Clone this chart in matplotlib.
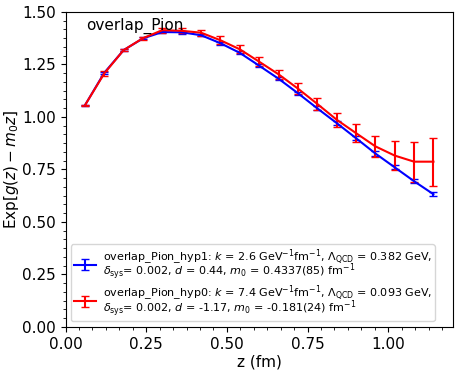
import numpy as np
import matplotlib
matplotlib.use('Agg')
import matplotlib.pyplot as plt
from matplotlib.ticker import AutoMinorLocator

z = [0.06, 0.12, 0.18, 0.24, 0.30, 0.36, 0.42, 0.48, 0.54, 0.60,
     0.66, 0.72, 0.78, 0.84, 0.90, 0.96, 1.02, 1.08, 1.14]

hyp1 = [1.055, 1.210, 1.318, 1.374, 1.404, 1.403, 1.389, 1.351, 1.305, 1.244,
        1.182, 1.113, 1.041, 0.971, 0.899, 0.826, 0.760, 0.694, 0.632]
hyp1_err = [0.003, 0.006, 0.005, 0.005, 0.006, 0.006, 0.006, 0.007, 0.007, 0.008,
            0.008, 0.008, 0.009, 0.009, 0.009, 0.010, 0.010, 0.010, 0.010]

hyp0 = [1.055, 1.207, 1.318, 1.375, 1.413, 1.410, 1.401, 1.365, 1.322, 1.263,
        1.203, 1.135, 1.062, 0.987, 0.923, 0.860, 0.816, 0.787, 0.787]
hyp0_err = [0.004, 0.010, 0.006, 0.007, 0.012, 0.012, 0.014, 0.018, 0.020, 0.022,
            0.022, 0.026, 0.027, 0.033, 0.041, 0.050, 0.068, 0.096, 0.115]

lab1 = (r'overlap_Pion_hyp1: $k$ = 2.6 GeV$^{-1}$fm$^{-1}$, $\Lambda_{\rm QCD}$ = 0.382 GeV,' + '\n'
        + r'$\delta_{\rm sys}$= 0.002, $d$ = 0.44, $m_0$ = 0.4337(85) fm$^{-1}$')
lab0 = (r'overlap_Pion_hyp0: $k$ = 7.4 GeV$^{-1}$fm$^{-1}$, $\Lambda_{\rm QCD}$ = 0.093 GeV,' + '\n'
        + r'$\delta_{\rm sys}$= 0.002, $d$ = -1.17, $m_0$ = -0.181(24) fm$^{-1}$')

fig = plt.figure(figsize=(4.63, 3.72), dpi=100)
ax = fig.add_axes([0.1415, 0.121, 0.8365, 0.847])

ax.errorbar(z, hyp1, yerr=hyp1_err, color='blue', lw=1.5, capsize=3, label=lab1)
ax.errorbar(z, hyp0, yerr=hyp0_err, color='red', lw=1.5, capsize=3, label=lab0)

ax.set_xlim(0, 1.2)
ax.set_ylim(0, 1.5)
ax.set_xticks([0, 0.25, 0.5, 0.75, 1.0])
ax.set_yticks([0, 0.25, 0.5, 0.75, 1.0, 1.25, 1.5])
ax.xaxis.set_minor_locator(AutoMinorLocator(6))
ax.yaxis.set_minor_locator(AutoMinorLocator(6))
ax.tick_params(labelsize=11)
ax.set_xlabel('z (fm)', fontsize=11, labelpad=2)
ax.set_ylabel(r'Exp$[g(z)-m_0z]$', fontsize=11, labelpad=1)

ax.text(0.053, 0.955, 'overlap_Pion', transform=ax.transAxes, fontsize=11, va='center')
leg = ax.legend(loc='lower left', fontsize=8, labelspacing=0.15, borderpad=0.25,
                handletextpad=0.6)
for t in leg.get_texts():
    t.set_linespacing(0.6)

fig.savefig('out.png', dpi=100)
